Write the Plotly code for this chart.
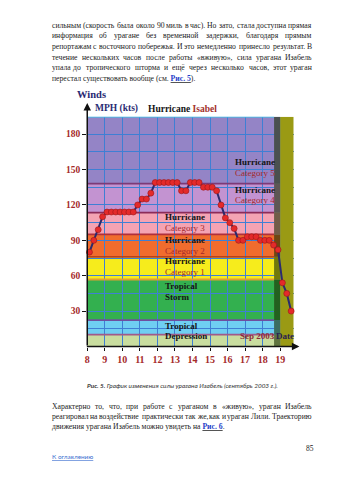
import glob
import struct

import plotly.graph_objects as go

W, H = 339, 480
SERIF = "Liberation Serif"
SANS = "Lato"

# ---- Hurricane Isabel, sustained winds every 6 hours (September 2003) ----
days = [8.125, 8.375, 8.625, 8.875, 9.125, 9.375, 9.625, 9.875,
        10.125, 10.375, 10.625, 10.875, 11.125, 11.375, 11.625, 11.875,
        12.125, 12.375, 12.625, 12.875, 13.125, 13.375, 13.625, 13.875,
        14.125, 14.375, 14.625, 14.875, 15.125, 15.375, 15.625, 15.875,
        16.125, 16.375, 16.625, 16.875, 17.125, 17.375, 17.625, 17.875,
        18.125, 18.375, 18.625, 18.875, 19.125, 19.375, 19.625]
winds = [80, 90, 99, 110, 114, 114, 114, 114, 114, 114, 114, 120, 125, 125, 130,
         139, 139, 139, 139, 139, 139, 132, 132, 139, 139, 139, 135, 135, 135,
         132, 120, 109, 105, 100, 90, 90, 93, 93, 93, 90, 90, 90, 86, 82,
         54, 45, 30]

day_ticks = [8, 9, 10, 11, 12, 13, 14, 15, 16, 17, 18, 19]
wind_ticks = [30, 60, 90, 120, 150, 180]

# intensity bands (lower edge, upper edge, fill, edge line)
band_edges = [0, 10, 22.4, 56.8, 76, 95, 113.5, 138, 194.8]
band_fills = ["#c9dd9f", "#6fcff2", "#33b04f", "#f6ec1c", "#f06c2e",
              "#f4a3b3", "#c393d1", "#9484c6"]
edge_lines = ["#a05a8a", "#6f4f9f", "#e0a030", "#b8401e", "#b0303c",
              "#8c2c5a", "#7c3a78"]

# category captions: (first line, second line, day, upper y, lower y)
band_labels = [
    ("Hurricane", "Category 5", 16.29, 156.2, 146.9),
    ("Hurricane", "Category 4", 16.29, 132.3, 123.8),
    ("Hurricane", "Category 3", 12.33, 109.7, 100.8),
    ("Hurricane", "Category 2", 12.33, 90.6, 81.3),
    ("Hurricane", "Category 1", 12.33, 72.3, 63.0),
    ("Tropical", "Storm", 12.33, 51.1, 42.1),
    ("Tropical", "Depression", 12.33, 17.6, 8.9),
]

X0, X1 = 8, 19.77
Y0, Y1 = 0, 194.8
DARK_FROM, DARK_TO = 18.65, 19.0

para_top = [
    "сильным (скорость была около 90 миль в час). Но зато, стала доступна прямая",
    "информация об урагане без временной задержки, благодаря прямым",
    "репортажам с восточного побережья. И это немедленно принесло результат. В",
    "течение нескольких часов после работы «вживую», сила урагана Изабель",
    "упала до тропического шторма и ещё через несколько часов, этот ураган",
]
para_top_tail = ("перестал существовать вообще (см. ", "Рис. 5", ").")
para_bottom = [
    "Характерно то, что, при работе с ураганом в «живую», ураган Изабель",
    "реагировал на воздействие практически так же, как и ураган Лили. Траекторию",
]
para_bottom_tail = ("движения урагана Изабель можно увидеть на ", "Рис. 6", ".")
caption = ("Рис. 5.", " График изменения силы урагана Изабель (сентябрь 2003 г.).")

TEXT_LEFT, TEXT_RIGHT = 48, 313
BODY_SIZE = 7.7
WIDTH_SLACK = 1.05
LINK = "#1f3fc8"

# rough Times advance widths (em), used if the font file cannot be read
CHAR_EM = {
    "а": .444, "б": .5, "в": .47, "г": .4, "д": .5, "е": .444, "ё": .444,
    "ж": .7, "з": .39, "и": .53, "й": .53, "к": .47, "л": .5, "м": .62,
    "н": .53, "о": .5, "п": .53, "р": .5, "с": .444, "т": .43, "у": .5,
    "ф": .65, "х": .5, "ц": .53, "ч": .5, "ш": .77, "щ": .77, "ъ": .53,
    "ы": .68, "ь": .46, "э": .44, "ю": .72, "я": .48,
    ".": .25, ",": .25, "(": .333, ")": .333, "«": .5, "»": .5, " ": .25,
}


def table_advance(ch):
    if ch in CHAR_EM:
        return CHAR_EM[ch]
    if ch.isdigit():
        return .5
    if ch.isupper():
        return .68
    return .5


def font_advances(path):
    """Return a function giving a character's advance width (em) from a TrueType file."""
    data = open(path, "rb").read()
    n_tables = struct.unpack(">H", data[4:6])[0]
    tables = {}
    for i in range(n_tables):
        tag, _, off, length = struct.unpack(">4sIII", data[12 + 16 * i:28 + 16 * i])
        tables[tag.decode("latin-1")] = off
    head, hhea, hmtx, cmap = tables["head"], tables["hhea"], tables["hmtx"], tables["cmap"]
    upem = struct.unpack(">H", data[head + 18:head + 20])[0]
    n_metrics = struct.unpack(">H", data[hhea + 34:hhea + 36])[0]
    adv = [struct.unpack(">H", data[hmtx + 4 * i:hmtx + 4 * i + 2])[0] for i in range(n_metrics)]
    n_sub = struct.unpack(">H", data[cmap + 2:cmap + 4])[0]
    sub = None
    for i in range(n_sub):
        pid, eid, off = struct.unpack(">HHI", data[cmap + 4 + 8 * i:cmap + 12 + 8 * i])
        fmt = struct.unpack(">H", data[cmap + off:cmap + off + 2])[0]
        if fmt == 4 and pid in (0, 3):
            sub = cmap + off
            break
    seg2 = struct.unpack(">H", data[sub + 6:sub + 8])[0]
    seg = seg2 // 2
    ends = struct.unpack(f">{seg}H", data[sub + 14:sub + 14 + seg2])
    starts = struct.unpack(f">{seg}H", data[sub + 16 + seg2:sub + 16 + 2 * seg2])
    deltas = struct.unpack(f">{seg}h", data[sub + 16 + 2 * seg2:sub + 16 + 3 * seg2])
    ro_pos = sub + 16 + 3 * seg2
    ranges = struct.unpack(f">{seg}H", data[ro_pos:ro_pos + seg2])

    def glyph(cp):
        for i in range(seg):
            if starts[i] <= cp <= ends[i]:
                if ranges[i] == 0:
                    return (cp + deltas[i]) & 0xFFFF
                addr = ro_pos + 2 * i + ranges[i] + 2 * (cp - starts[i])
                g = struct.unpack(">H", data[addr:addr + 2])[0]
                return (g + deltas[i]) & 0xFFFF if g else 0
        return 0

    def advance(ch):
        g = glyph(ord(ch))
        if g == 0:
            return table_advance(ch)
        return adv[min(g, n_metrics - 1)] / upem

    return advance


advance = table_advance
for found in glob.glob("/usr/share/fonts/**/LiberationSerif-Regular.ttf", recursive=True):
    try:
        advance = font_advances(found)
        break
    except Exception:
        advance = table_advance


def text_width(s, size):
    return sum(advance(ch) for ch in s) * size * WIDTH_SLACK


annotations = []


def page_note(text, x, y, size, color="#222222", family=SERIF, xanchor="left",
              weight="normal", style="normal"):
    annotations.append(dict(
        text=text, x=x / W, y=1 - y / H, xref="paper", yref="paper",
        xanchor=xanchor, yanchor="middle", showarrow=False, borderpad=0,
        font=dict(family=family, size=size, color=color, weight=weight, style=style)))


def justified_line(line, y):
    words = line.split(" ")
    widths = [text_width(w, BODY_SIZE) for w in words]
    gap = (TEXT_RIGHT - TEXT_LEFT - sum(widths)) / (len(words) - 1)
    x = TEXT_LEFT
    for i, (word, wd) in enumerate(zip(words, widths)):
        if i == 0:
            page_note(word, TEXT_LEFT, y, BODY_SIZE)
        elif i == len(words) - 1:
            page_note(word, TEXT_RIGHT, y, BODY_SIZE, xanchor="right")
        else:
            page_note(word, x + wd / 2, y, BODY_SIZE, xanchor="center")
        x += wd + gap


def link_line(parts, y):
    head, link, tail = parts
    html = f"{head}<b><u><span style='color:{LINK}'>{link}</span></u></b>{tail}"
    page_note(html, TEXT_LEFT, y, BODY_SIZE)


# body text above the figure
LINE_STEP = 10.6
for i, line in enumerate(para_top):
    justified_line(line, 25.3 + i * LINE_STEP)
link_line(para_top_tail, 25.3 + 5 * LINE_STEP)

# caption and text below the figure
page_note(f"<i><b>{caption[0]}</b>{caption[1]}</i>", 181, 385, 6.4,
          color="#333333", family=SANS, xanchor="center")
for i, line in enumerate(para_bottom):
    justified_line(line, 406.5 + i * 10.2)
link_line(para_bottom_tail, 406.5 + 2 * 10.2)
page_note("85", 315, 448.5, 7.5, xanchor="right")
page_note("<u>К оглавлению</u>", TEXT_LEFT, 456.5, 6.4, color="#3d6fd0", family=SANS)

# chart titles
page_note("<b>Winds</b>", 74, 95, 10.5, color="#2a2a72")
page_note("<b>MPH (kts)</b>", 92, 108.5, 9.5, color="#2a2a72")
page_note("<b>Hurricane</b> <span style='color:#a3302c'><b>Isabel</b></span>",
          145, 108.5, 9.5, color="#151515")

# axis arrows
annotations.append(dict(text="", x=85 / W, y=1 - 103 / H, xref="paper", yref="paper",
                        ax=0, ay=244, showarrow=True, arrowhead=2, arrowsize=1,
                        arrowwidth=1.5, arrowcolor="#111111", standoff=0))
annotations.append(dict(text="", x=299 / W, y=1 - 346.5 / H, xref="paper", yref="paper",
                        ax=-214, ay=0, showarrow=True, arrowhead=2, arrowsize=1,
                        arrowwidth=1.5, arrowcolor="#111111", standoff=0))

# band captions inside the chart
for top, bottom, dx, y_top, y_bottom in band_labels:
    annotations.append(dict(text=f"<b>{top}</b>", x=dx, y=y_top, xref="x", yref="y",
                            xanchor="left", yanchor="middle", showarrow=False,
                            font=dict(family=SERIF, size=9, color="#141414")))
    bottom_html = f"<b>{bottom}</b>" if top == "Tropical" else bottom
    bottom_color = "#141414" if top == "Tropical" else "#a3282a"
    annotations.append(dict(text=bottom_html, x=dx, y=y_bottom, xref="x", yref="y",
                            xanchor="left", yanchor="middle", showarrow=False,
                            font=dict(family=SERIF, size=9, color=bottom_color)))
annotations.append(dict(text="<b>Sep 2003</b>", x=16.57, y=8.9, xref="x", yref="y",
                        xanchor="left", yanchor="middle", showarrow=False,
                        font=dict(family=SERIF, size=9, color="#8e2a3c")))
annotations.append(dict(text="<b>Date</b>", x=18.64, y=8.9, xref="x", yref="y",
                        xanchor="left", yanchor="middle", showarrow=False,
                        font=dict(family=SERIF, size=9, color="#2a2050")))

# band fills, edge lines, shaded landfall strip
shapes = []
for lo, hi, fill in zip(band_edges[:-1], band_edges[1:], band_fills):
    shapes.append(dict(type="rect", xref="x", yref="y", x0=X0, x1=DARK_FROM, y0=lo, y1=hi,
                       fillcolor=fill, line=dict(width=0), layer="below"))
for edge, col in zip(band_edges[1:-1], edge_lines):
    shapes.append(dict(type="line", xref="x", yref="y", x0=X0, x1=DARK_FROM, y0=edge, y1=edge,
                       line=dict(color=col, width=1.8), layer="between"))
for lo, hi, fill in zip(band_edges[:-1], band_edges[1:], band_fills):
    shapes.append(dict(type="rect", xref="x", yref="y", x0=DARK_FROM, x1=DARK_TO, y0=lo, y1=hi,
                       fillcolor=fill, line=dict(width=0), layer="between"))
shapes.append(dict(type="rect", xref="x", yref="y", x0=DARK_FROM, x1=DARK_TO, y0=Y0, y1=Y1,
                   fillcolor="rgba(25,45,0,0.6)", line=dict(width=0), layer="between"))
shapes.append(dict(type="rect", xref="x", yref="y", x0=DARK_TO, x1=X1, y0=Y0, y1=Y1,
                   fillcolor="#9a9a14", line=dict(width=0), layer="between"))
shapes.append(dict(type="line", xref="x", yref="y", x0=X0, x1=DARK_FROM, y0=Y1, y1=Y1,
                   line=dict(color="#38c4e8", width=1.5), layer="between"))

fig = go.Figure(go.Scatter(
    x=days, y=winds, mode="lines+markers", cliponaxis=False,
    line=dict(color="#2b2b6e", width=2),
    marker=dict(color="#e42a2a", size=6, line=dict(color="#9a1515", width=0.6)),
    hoverinfo="skip", showlegend=False))

tick_font = dict(family=SERIF, size=10, color="#a52a2a", weight="bold")
fig.update_layout(
    width=W, height=H, margin=dict(l=0, r=0, t=0, b=0),
    paper_bgcolor="white", plot_bgcolor="white",
    showlegend=False, shapes=shapes, annotations=annotations,
    xaxis=dict(domain=[85 / W, 293.3 / W], range=[X0, X1], tickvals=day_ticks,
               ticks="outside", ticklen=3, tickcolor="#111111", tickfont=tick_font,
               showgrid=True, gridcolor="#3f7fd4", gridwidth=1, zeroline=False,
               showline=False, fixedrange=True),
    yaxis=dict(domain=[1 - 346.5 / H, 1 - 116.7 / H], range=[Y0, Y1], tickvals=wind_ticks,
               ticks="outside", ticklen=4, tickcolor="#111111",
               tickfont=dict(family=SERIF, size=9.5, color="#a52a2a", weight="bold"),
               showgrid=True, gridcolor="#3f7fd4", gridwidth=1, zeroline=False,
               showline=False, fixedrange=True,
               minor=dict(tick0=0, dtick=15, showgrid=True, gridcolor="#3f7fd4",
                          gridwidth=1)),
)

fig.write_html("out.html")
